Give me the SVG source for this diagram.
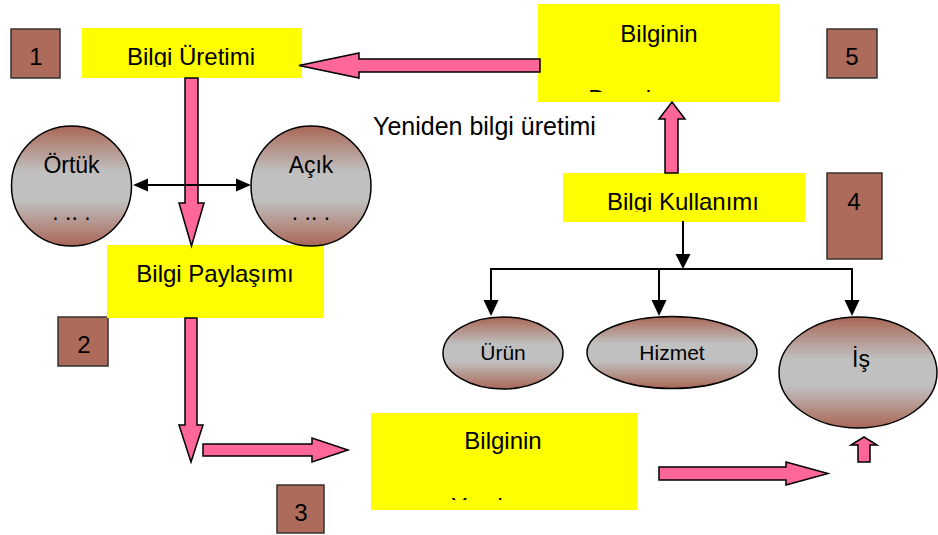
<svg xmlns="http://www.w3.org/2000/svg" width="938" height="535" viewBox="0 0 938 535">
<defs>
<linearGradient id="bs" x1="0" y1="0" x2="0" y2="1">
<stop offset="0" stop-color="#A96756"/>
<stop offset="0.38" stop-color="#C0C0C0"/>
<stop offset="0.62" stop-color="#C0C0C0"/>
<stop offset="1" stop-color="#A96756"/>
</linearGradient>
<clipPath id="c1"><rect x="82" y="28" width="220" height="39"/></clipPath>
<clipPath id="c5t"><rect x="538" y="4" width="242" height="88"/></clipPath>
<clipPath id="c3t"><rect x="371" y="413" width="266" height="87"/></clipPath>
<clipPath id="c4"><rect x="563" y="173" width="242" height="39"/></clipPath>
</defs>
<style>
text{font-family:"Liberation Sans",Arial,sans-serif;fill:#000;}
.lbl{font-size:24px;text-anchor:middle;}
.sm{font-size:21px;text-anchor:middle;}
.cl{font-size:23px;text-anchor:middle;}
.yb{fill:#FFFF00;}
.num{fill:#AD6B5C;stroke:#333;stroke-width:1.5;}
.ov{fill:url(#bs);stroke:#000;stroke-width:1.5;}
.pk{fill:#FF6699;stroke:#000;stroke-width:1.5;stroke-linejoin:miter;}
.bl{stroke:#000;stroke-width:2;fill:none;}
.bh{fill:#000;}
</style>
<rect width="938" height="535" fill="#fff"/>

<g id="n1"><rect class="num" x="11" y="29" width="49" height="49"/><text class="lbl" x="36" y="65">1</text></g>
<g id="n2"><rect class="num" x="58" y="317" width="50" height="49"/><text class="lbl" x="84" y="353">2</text></g>
<g id="n3"><rect class="num" x="277" y="485" width="47" height="48"/><text class="lbl" x="301" y="521">3</text></g>
<g id="n4"><rect class="num" x="827" y="173" width="55" height="86"/><text class="lbl" x="854" y="210">4</text></g>
<g id="n5"><rect class="num" x="827" y="29" width="50" height="49"/><text class="lbl" x="852" y="65">5</text></g>

<g id="uretim"><rect class="yb" x="82" y="28" width="220" height="50"/>
<text class="lbl" x="191" y="65" clip-path="url(#c1)">Bilgi Üretimi</text></g>

<g id="depolama"><rect class="yb" x="538" y="4" width="242" height="98"/>
<text class="lbl" x="659" y="42">Bilginin</text>
<text class="lbl" x="659" y="106.5" clip-path="url(#c5t)">Depolanması</text></g>

<g id="paylasim"><rect class="yb" x="107" y="245" width="217" height="73"/>
<text class="lbl" x="215" y="282">Bilgi Paylaşımı</text></g>

<g id="yayilma"><rect class="yb" x="371" y="413" width="266" height="97"/>
<text class="lbl" x="503" y="449">Bilginin</text>
<text class="lbl" x="503" y="514.5" clip-path="url(#c3t)">Yayılması</text></g>

<g id="kullanim"><rect class="yb" x="563" y="173" width="242" height="49"/>
<text class="lbl" x="683" y="210" clip-path="url(#c4)">Bilgi Kullanımı</text></g>

<g id="ortuk"><circle class="ov" cx="71.5" cy="186" r="60"/>
<text class="cl" x="71.5" y="173">Örtük</text><text class="cl" x="71.5" y="220">. .. .</text></g>
<g id="acik"><circle class="ov" cx="311" cy="186" r="60"/>
<text class="cl" x="311" y="173">Açık</text><text class="cl" x="311" y="220">. .. .</text></g>

<g id="urun"><ellipse class="ov" cx="503" cy="353" rx="60" ry="36"/><text class="sm" x="503" y="360">Ürün</text></g>
<g id="hizmet"><ellipse class="ov" cx="672" cy="352.5" rx="85" ry="36"/><text class="sm" x="672" y="360">Hizmet</text></g>
<g id="is"><ellipse class="ov" cx="858" cy="372.5" rx="79" ry="55.5"/><text class="cl" x="861" y="367">İş</text></g>

<g id="yeniden"><text x="373" y="135" style="font-size:25px">Yeniden bilgi üretimi</text></g>

<g id="connectors">
<polygon class="pk" points="185,78 198,78 198,203 204,203 191.5,246 179,203 185,203"/>
<polygon class="pk" points="540,59 359,59 359,53 299,65.5 359,78 359,72 540,72"/>
<polygon class="pk" points="665,173 665,119 659,119 672,102 685,119 678,119 678,173"/>
<polygon class="pk" points="185,318 197,318 197,425 203,425 191,462 179,425 185,425"/>
<polygon class="pk" points="203,444 312,444 312,438 348,450 312,462 312,456 203,456"/>
<polygon class="pk" points="659,467 786,467 786,462 828,473.5 786,485 786,480 659,480"/>
<polygon class="pk" points="858,462 858,445 851,445 864,437 877,445 870,445 870,462"/>
<line class="bl" x1="146" y1="185" x2="238" y2="185"/>
<polygon class="bh" points="133,185 148,178.5 148,191.5"/>
<polygon class="bh" points="251,185 236,178.5 236,191.5"/>
<line class="bl" x1="683" y1="221" x2="683" y2="256"/>
<polygon class="bh" points="675.5,254 690.5,254 683,269"/>
<polyline class="bl" points="491,302 491,269 852,269 852,302"/>
<line class="bl" x1="659" y1="269" x2="659" y2="302"/>
<polygon class="bh" points="483.5,300 498.5,300 491,316"/>
<polygon class="bh" points="651.5,300 666.5,300 659,316"/>
<polygon class="bh" points="844.5,300 859.5,300 852,316"/>
</g>
</svg>
